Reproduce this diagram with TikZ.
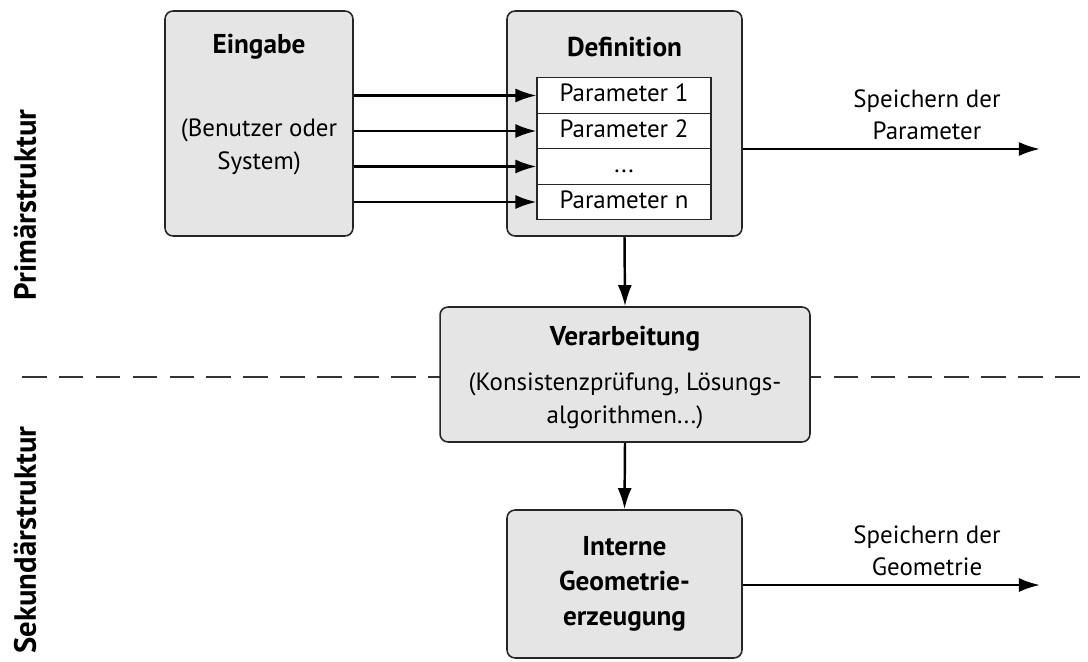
\documentclass[tikz,border=0pt]{standalone}
\usepackage{fontspec}
\setmainfont{PT Sans}
\usetikzlibrary{arrows.meta}
\tikzset{
	box/.style={draw=black!85, line width=0.9pt, fill=black!10, rounded corners=0.16cm, inner sep=0pt},
	titel/.style={font=\fontsize{15.5}{20}\selectfont\bfseries, align=center},
	txt/.style={font=\fontsize{14.2}{18.5}\selectfont, align=center},
	param/.style={draw=black!85, line width=0.6pt, fill=white, minimum width=3.48cm, minimum height=0.71cm, inner sep=0pt, text height=10pt, text depth=3pt, font=\fontsize{14.2}{16}\selectfont},
	pfeil/.style={line width=1.4pt, -{Latex[length=12pt,width=8pt]}},
	seite/.style={font=\fontsize{17.5}{20}\selectfont\bfseries, rotate=90},
}

\begin{document}
\begin{tikzpicture}[x=0.02cm, y=-0.02cm]
			%%%%% START %%%%%
			\useasboundingbox (0, 0) rectangle (1088, 662);
			
			% Trennlinie
			\draw[black!80, line width=0.7pt, dash pattern=on 14pt off 7pt] (22, 377) -- (1088, 377);
			
			\node[seite] (prim) at (25, 205) {Primärstruktur};
			\node[seite] (sek) at (25, 540) {Sekundärstruktur};
			
			% Eingabe
			\node[box, minimum width=3.76cm, minimum height=4.5cm] (eingabe) at (259, 123.5) {};
			\node[titel] (eingabeT) at (259, 47) {Eingabe};
			\node[txt] (eingabeS) at (259, 147) {(Benutzer oder\\System)};
			
			% Definition
			\node[box, minimum width=4.7cm, minimum height=4.5cm] (definition) at (624.5, 123.5) {};
			\node[titel] (definitionT) at (624.5, 47) {Definition};
			\node[param] (p1) at (624, 95.5) {Parameter 1};
			\node[param] (p2) at (624, 131) {Parameter 2};
			\node[param] (p3) at (624, 166.5) {...};
			\node[param] (pn) at (624, 202) {Parameter n};
			
			\draw[pfeil] (eingabe.east |- p1) -- (p1.west);
			\draw[pfeil] (eingabe.east |- p2) -- (p2.west);
			\draw[pfeil] (eingabe.east |- p3) -- (p3.west);
			\draw[pfeil] (eingabe.east |- pn) -- (pn.west);
			
			\coordinate (ausP) at (1040, 149);
			\draw[pfeil] (definition.east |- ausP) -- (ausP);
			\node[txt] (ausPT) at (927, 115) {Speichern der\\Parameter};
			
			% Verarbeitung
			\node[box, minimum width=7.4cm, minimum height=2.7cm] (verarbeitung) at (625, 374.5) {};
			\node[titel] (verarbeitungT) at (625, 339) {Verarbeitung};
			\node[txt] (verarbeitungS) at (625, 401) {(Konsistenzprüfung, Lösungs-\\algorithmen...)};
			
			\draw[pfeil] (definition.south) -- (verarbeitung.north);
			
			% Interne Geometrieerzeugung
			\node[box, minimum width=4.7cm, minimum height=2.96cm, titel] (interne) at (624.5, 584) {Interne\\Geometrie-\\erzeugung};
			
			\draw[pfeil] (verarbeitung.south) -- (interne.north);
			
			\coordinate (ausG) at (1040, 585);
			\draw[pfeil] (interne.east |- ausG) -- (ausG);
			\node[txt] (ausGT) at (927, 551) {Speichern der\\Geometrie};
			%%%%% END %%%%%
\end{tikzpicture}
\end{document}
